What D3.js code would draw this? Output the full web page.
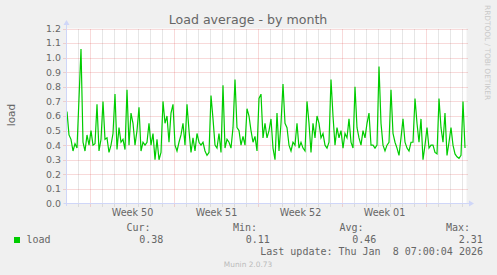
<!DOCTYPE html>
<html><head><meta charset="utf-8">
<script src="https://cdn.jsdelivr.net/npm/d3@7"></script>
<style>html,body{margin:0;padding:0;background:#F0F0F0;overflow:hidden}svg{display:block}</style>
</head><body>
<script>
const chartTitle = "Load average - by month";
const yAxisLabel = "load";
const yTickValues = [0.0, 0.1, 0.2, 0.3, 0.4, 0.5, 0.6, 0.7, 0.8, 0.9, 1.0, 1.1, 1.2];
const weekLabels = ["Week 50", "Week 51", "Week 52", "Week 01"];
const seriesName = "load";
const statLabels = ["Cur:", "Min:", "Avg:", "Max:"];
const statValues = ["0.38", "0.11", "0.46", "2.31"];
const lastUpdate = "Last update: Thu Jan  8 07:00:04 2026";
const footer = "Munin 2.0.73";
const watermark = "RRDTOOL / TOBI OETIKER";
// series: one value every 4 hours starting 2025-12-06 01:00
const loadStart = new Date(2025, 11, 6, 1, 0);
const loadStepHours = 4;
const loadValues = [
  0.63,0.47,0.44,0.36,0.41,0.38,0.72,1.06,0.42,0.36,0.47,0.40,0.50,0.40,0.41,0.68,0.36,0.44,0.70,0.44,0.45,0.35,0.40,0.48,0.75,0.37,0.52,0.42,0.44,0.37,0.78,0.40,
  0.62,0.55,0.40,0.50,0.66,0.36,0.42,0.40,0.42,0.55,0.40,0.48,0.30,0.44,0.30,0.35,0.70,0.55,0.60,0.42,0.62,0.68,0.40,0.36,0.42,0.47,0.55,0.40,0.68,0.50,0.35,0.45,0.36,0.48,0.42,
  0.40,0.42,0.36,0.33,0.35,0.74,0.58,0.40,0.38,0.48,0.35,0.81,0.38,0.44,0.42,0.38,0.52,0.85,0.52,0.50,0.40,0.46,0.40,0.65,0.60,0.50,0.42,0.46,0.36,0.72,0.75,0.45,0.55,0.45,0.50,
  0.58,0.38,0.30,0.62,0.36,0.55,0.82,0.55,0.52,0.40,0.36,0.42,0.40,0.55,0.38,0.42,0.38,0.36,0.70,0.55,0.35,0.55,0.45,0.60,0.55,0.45,0.48,0.40,0.38,0.42,0.85,0.60,0.40,0.52,
  0.45,0.50,0.38,0.48,0.45,0.58,0.42,0.38,0.80,0.52,0.45,0.40,0.50,0.45,0.55,0.62,0.40,0.40,0.38,0.40,0.94,0.55,0.40,0.36,0.40,0.42,0.78,0.48,0.42,0.38,0.33,0.45,0.58,0.42,
  0.38,0.36,0.42,0.42,0.72,0.55,0.42,0.58,0.30,0.40,0.52,0.38,0.40,0.40,0.35,0.34,0.72,0.52,0.42,0.62,0.33,0.42,0.52,0.40,0.34,0.32,0.31,0.33,0.70,0.38
];

const W = 497, H = 275;
const fontColor = "#666666", axisColor = "#CFD6F8";
const gridMinor = "rgba(143,143,143,0.45)", gridMajor = "rgba(222,79,79,0.42)";
const svg = d3.select("body").append("svg").attr("width", W).attr("height", H);
svg.append("rect").attr("width", W).attr("height", H).attr("fill", "#F0F0F0");

const x = d3.scaleTime().domain([new Date(2025, 11, 6, 0), new Date(2026, 0, 8, 8)]).range([66.5, 466.5]);
const y = d3.scaleLinear().domain([0, 1.2]).range([203.5, 28.5]);

svg.append("rect").attr("x", 66.5).attr("y", 28.5).attr("width", 400).attr("height", 175).attr("fill", "#fff");

// vertical grid: days, majors on Monday
const days = d3.timeDay.range(x.domain()[0], x.domain()[1]).filter(d => x(d) > 67);
svg.append("g").selectAll("line").data(days).join("line")
  .attr("x1", d => Math.floor(x(d)) + 0.5).attr("x2", d => Math.floor(x(d)) + 0.5)
  .attr("y1", y(0) + 3).attr("y2", y(1.2))
  .attr("stroke", d => d.getDay() === 1 ? gridMajor : gridMinor)
  .attr("stroke-dasharray", "1,1");
// horizontal grid
svg.append("g").selectAll("line").data(yTickValues.filter(v => v > 0)).join("line")
  .attr("x1", 63.5).attr("x2", 468)
  .attr("y1", d => Math.round(y(d)) + 0.5).attr("y2", d => Math.round(y(d)) + 0.5)
  .attr("stroke", gridMajor).attr("stroke-dasharray", "1,1");

// y tick labels
svg.append("g").selectAll("text").data(yTickValues).join("text")
  .attr("x", 61).attr("y", d => y(d)).attr("dy", "0.36em")
  .attr("text-anchor", "end").attr("font-family", "DejaVu Sans").attr("font-size", 9.4)
  .attr("fill", fontColor).text(d => d.toFixed(1));

// week labels centered on weeks
const mondays = d3.timeMonday.range(x.domain()[0], x.domain()[1]);
svg.append("g").selectAll("text").data(weekLabels).join("text")
  .attr("x", (d, i) => x(d3.timeHour.offset(mondays[i], 84)))
  .attr("y", 216).attr("text-anchor", "middle")
  .attr("font-family", "DejaVu Sans").attr("font-size", 9.6)
  .attr("fill", fontColor).text(d => d);

// data line
const line = d3.line()
  .x((d, i) => x(d3.timeHour.offset(loadStart, i * loadStepHours)))
  .y(d => y(d));
svg.append("path").datum(loadValues).attr("d", line)
  .attr("fill", "none").attr("stroke", "#00CC00").attr("stroke-width", 1.2);

// axes with arrows
svg.append("line").attr("x1", 66.5).attr("x2", 66.5).attr("y1", 206).attr("y2", 24)
  .attr("stroke", axisColor).attr("stroke-width", 1);
svg.append("path").attr("d", "M63.5,25 L66.5,20 L69.5,25 Z").attr("fill", axisColor);
svg.append("line").attr("x1", 63.5).attr("x2", 470).attr("y1", 203.5).attr("y2", 203.5)
  .attr("stroke", axisColor).attr("stroke-width", 1);
svg.append("path").attr("d", "M469,200.5 L474,203.5 L469,206.5 Z").attr("fill", axisColor);

// title
svg.append("text").attr("x", 248).attr("y", 24).attr("text-anchor", "middle")
  .attr("font-family", "DejaVu Sans").attr("font-size", 12.6).attr("fill", fontColor).text(chartTitle);
// y label
svg.append("text").attr("transform", "translate(15,115) rotate(-90)").attr("text-anchor", "middle")
  .attr("font-family", "DejaVu Sans").attr("font-size", 10.5).attr("fill", fontColor).text(yAxisLabel);
// watermark
svg.append("text").attr("transform", "translate(485,5) rotate(90)")
  .attr("font-family", "DejaVu Sans").attr("font-size", 7.4).attr("fill", "#c8c8c8").text(watermark);

// legend
const mono = "DejaVu Sans Mono";
svg.append("rect").attr("x", 14).attr("y", 237).attr("width", 6).attr("height", 6).attr("fill", "#00CC00");
svg.append("text").attr("x", 26.5).attr("y", 243).attr("font-family", mono).attr("font-size", 10)
  .attr("fill", fontColor).text(seriesName);
const statRight = [150.5, 257, 363.5, 470];
svg.append("g").selectAll("text").data(statLabels).join("text")
  .attr("x", (d, i) => statRight[i]).attr("y", 231).attr("text-anchor", "end")
  .attr("font-family", mono).attr("font-size", 10).attr("fill", fontColor).text(d => d);
svg.append("g").selectAll("text").data(statValues).join("text")
  .attr("x", (d, i) => statRight[i] + 12.8).attr("y", 243).attr("text-anchor", "end")
  .attr("font-family", mono).attr("font-size", 10).attr("fill", fontColor).text(d => d);
svg.append("text").attr("x", 483).attr("y", 255).attr("text-anchor", "end").attr("xml:space", "preserve")
  .style("white-space", "pre")
  .attr("font-family", mono).attr("font-size", 10).attr("fill", fontColor).text(lastUpdate);
svg.append("text").attr("x", 248).attr("y", 267).attr("text-anchor", "middle")
  .attr("font-family", "DejaVu Sans").attr("font-size", 7.4).attr("fill", "#bbbbbb").text(footer);
</script>
</body></html>
